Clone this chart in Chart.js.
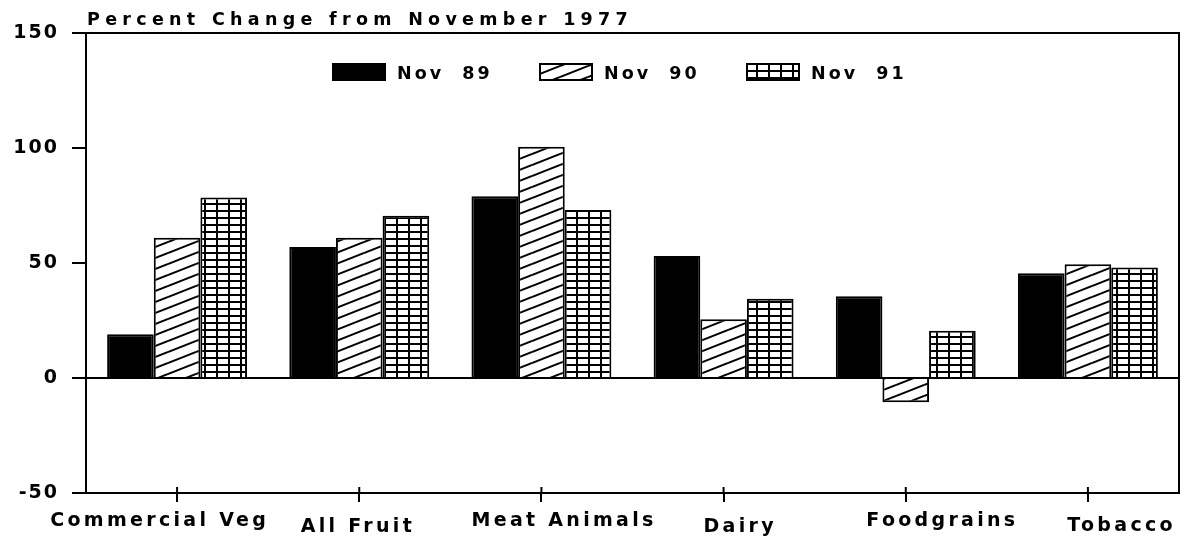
<!DOCTYPE html>
<html>
<head>
<meta charset="utf-8">
<script src="https://cdn.jsdelivr.net/npm/chart.js@4/dist/chart.umd.min.js"></script>
<style>
  html, body { margin: 0; padding: 0; background: #fff; }
  canvas { display: block; }
</style>
</head>
<body>
<canvas id="chart" width="1181" height="538"></canvas>
<script>
const categories = ['Commercial Veg', 'All Fruit', 'Meat Animals', 'Dairy', 'Foodgrains', 'Tobacco'];
const seriesNames = ['Nov  89', 'Nov  90', 'Nov  91'];
const nov89 = [19, 57, 79, 53, 35.5, 45.5];
const nov90 = [61, 61, 100.5, 25.5, -10.5, 49.5];
const nov91 = [78.5, 70.5, 73, 34.5, 20.5, 48];
const yTicks = [-50, 0, 50, 100, 150];
const titleText = 'Percent Change from November 1977';

const FONT = '"DejaVu Sans", sans-serif';
// the old plotter put the category names a little off their ticks, in two rows
const labelShift = [-19, -3, 21, 15, 35, 32];
const labelDrop = [33, 39, 33, 39, 33, 38];

function diagPattern() {
    const c = document.createElement('canvas');
    c.width = 28; c.height = 11;
    const g = c.getContext('2d');
    g.fillStyle = '#fff';
    g.fillRect(0, 0, 28, 11);
    g.strokeStyle = '#000';
    g.lineWidth = 2;
    for (const k of [-1, 0, 1]) {
        g.beginPath();
        g.moveTo(0, 11 + 11 * k);
        g.lineTo(28, 11 * k);
        g.stroke();
    }
    return g.createPattern(c, 'repeat');
}

function gridPattern() {
    const c = document.createElement('canvas');
    c.width = 12; c.height = 7;
    const g = c.getContext('2d');
    g.fillStyle = '#fff';
    g.fillRect(0, 0, 12, 7);
    g.fillStyle = '#000';
    g.fillRect(0, 0, 12, 2);
    g.fillRect(0, 0, 2, 7);
    return g.createPattern(c, 'repeat');
}

const fills = ['#000', diagPattern(), gridPattern()];

function spacedText(ctx, text, cx, y, spacing) {
    ctx.letterSpacing = spacing + 'px';
    const w = ctx.measureText(text).width - spacing;
    ctx.textAlign = 'left';
    ctx.fillText(text, cx - w / 2, y);
}

// title, frame, legend and category names drawn by hand
const decor = {
    id: 'decor',
    beforeLayout(chart) { chart.ctx.letterSpacing = '2px'; },
    beforeDraw(chart) { chart.ctx.letterSpacing = '2px'; },
    afterDraw(chart) {
        const ctx = chart.ctx;
        const a = chart.chartArea;
        const xs = chart.scales.x;
        ctx.save();
        ctx.fillStyle = '#000';
        ctx.strokeStyle = '#000';
        ctx.textBaseline = 'alphabetic';

        ctx.letterSpacing = '5.3px';
        ctx.font = 'bold 17.5px ' + FONT;
        ctx.textAlign = 'left';
        ctx.fillText(titleText, a.left + 1, 25);

        ctx.lineWidth = 2;
        ctx.beginPath();
        ctx.moveTo(a.left, a.top);
        ctx.lineTo(a.right, a.top);
        ctx.lineTo(a.right, a.bottom);
        ctx.stroke();

        // x ticks poke a little into the plot as well
        categories.forEach((c, i) => {
            const px = xs.getPixelForTick(i);
            ctx.beginPath();
            ctx.moveTo(px, a.bottom - 6);
            ctx.lineTo(px, a.bottom);
            ctx.stroke();
        });

        ctx.font = 'bold 19px ' + FONT;
        categories.forEach((c, i) => {
            spacedText(ctx, c, xs.getPixelForTick(i) + labelShift[i], a.bottom + labelDrop[i], 3.3);
        });

        ctx.letterSpacing = '3px';
        ctx.font = 'bold 17.5px ' + FONT;
        chart.data.datasets.forEach((ds, i) => {
            const x = 333 + i * 207;
            const y = 64;
            ctx.fillStyle = ds.backgroundColor;
            ctx.fillRect(x, y, 52, 16);
            ctx.strokeRect(x, y, 52, 16);
            ctx.fillStyle = '#000';
            ctx.fillText(ds.label, x + 64, y + 15);
        });
        ctx.restore();
    }
};

new Chart(document.getElementById('chart'), {
    type: 'bar',
    data: {
        labels: categories,
        datasets: [nov89, nov90, nov91].map((vals, i) => ({
            label: seriesNames[i],
            data: vals,
            backgroundColor: fills[i],
            borderColor: '#000',
            borderWidth: 2,
            categoryPercentage: 0.768,
            barPercentage: 1
        }))
    },
    options: {
        responsive: false,
        animation: false,
        devicePixelRatio: 1,
        layout: { padding: { top: 33, right: 2, left: 0, bottom: 0 } },
        plugins: {
            legend: { display: false },
            title: { display: false },
            tooltip: { enabled: false }
        },
        scales: {
            x: {
                afterFit: s => { s.height = 45; },
                grid: {
                    offset: false,
                    drawOnChartArea: false,
                    tickLength: 9,
                    tickColor: '#000',
                    lineWidth: 2
                },
                border: { color: '#000', width: 2 },
                ticks: { display: false }
            },
            y: {
                min: yTicks[0],
                max: yTicks[yTicks.length - 1],
                afterFit: s => { s.width = 86; },
                afterBuildTicks: s => { s.ticks = yTicks.map(v => ({ value: v })); },
                grid: {
                    color: c => (c.tick && c.tick.value === 0) ? '#000' : 'rgba(0,0,0,0)',
                    tickColor: '#000',
                    tickLength: 14,
                    lineWidth: 2
                },
                border: { color: '#000', width: 2 },
                ticks: {
                    color: '#000',
                    font: { family: FONT, size: 19, weight: 'bold' },
                    padding: 13
                }
            }
        }
    },
    plugins: [decor]
});
</script>
</body>
</html>
